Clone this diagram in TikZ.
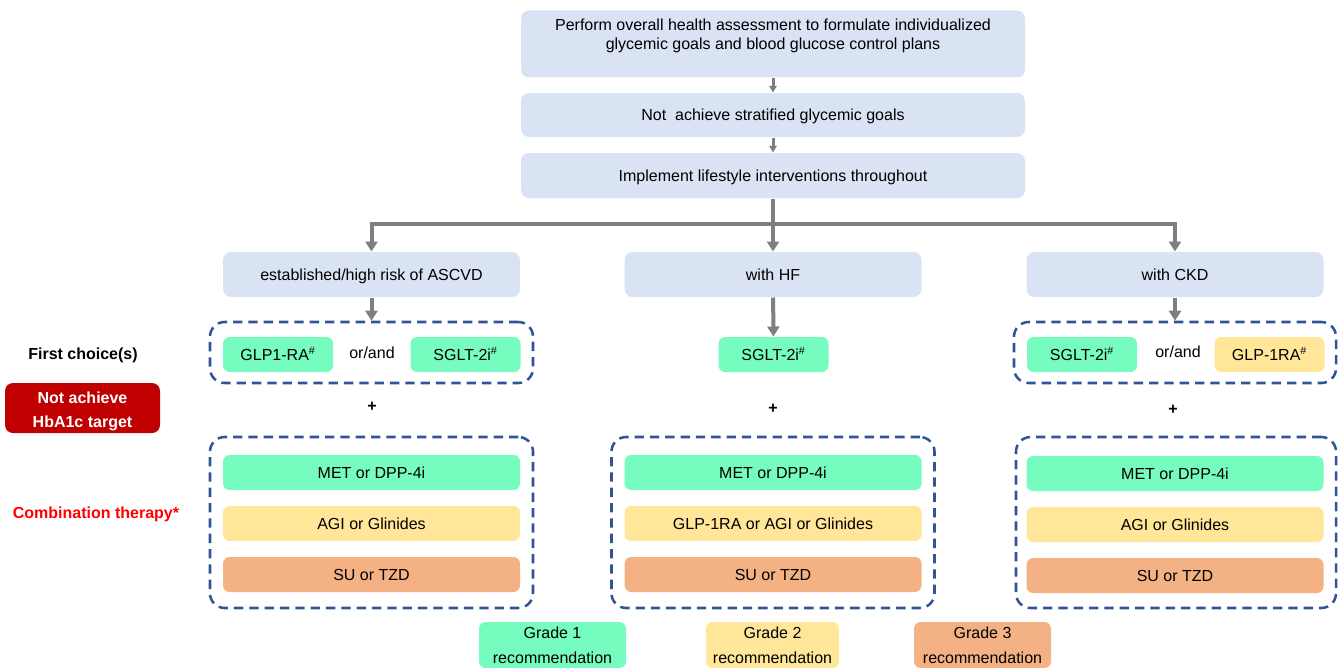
\documentclass[tikz,border=0pt]{standalone}
\usepackage{fontspec}
\setmainfont{Liberation Sans}
\usetikzlibrary{arrows.meta}

\definecolor{stageblue}{RGB}{218,227,243}
\definecolor{gradeone}{RGB}{118,252,190}
\definecolor{gradetwo}{RGB}{255,230,153}
\definecolor{gradethree}{RGB}{244,177,131}
\definecolor{dashblue}{RGB}{47,85,151}
\definecolor{alertred}{RGB}{192,0,0}
\definecolor{arrowgray}{RGB}{127,127,127}

\tikzset{every picture/.style={line width=0.75pt}}
\tikzset{
  oneline/.style={text height=8.6pt, text depth=0pt},
  stage/.style={fill=stageblue, rounded corners=6pt, minimum width=378pt, align=center},
  branch/.style={oneline, fill=stageblue, rounded corners=6pt, minimum width=222.75pt, minimum height=33.75pt},
  drug/.style={oneline, rounded corners=5pt, minimum width=82.5pt, minimum height=26.25pt},
  therapy/.style={oneline, rounded corners=5pt, minimum width=222.75pt, minimum height=26.25pt},
  group/.style={draw=dashblue, line width=1.9pt, dash pattern=on 7pt off 4.5pt, rounded corners=11pt},
  grade/.style={rounded corners=5pt, minimum height=34.5pt, align=center},
  flow/.style={draw=arrowgray, line width=2.25pt, -{Triangle[width=5.5pt,length=5pt]}},
  tree/.style={draw=arrowgray, line width=3pt},
  treearrow/.style={tree, -{Triangle[width=9pt,length=7.5pt]}}
}

\begin{document}
\begin{tikzpicture}[x=0.75pt,y=0.75pt,yscale=-1,xscale=1, font=\fontsize{12}{14.25}\selectfont]
		\useasboundingbox (0,0) rectangle (1341,667);

		% Assessment stages
		\node [stage, minimum height=50.25pt] (assess) at (773,44) {Perform overall health assessment to formulate individualized\\glycemic goals and blood glucose control plans\\\mbox{}};
		\node [stage, oneline, minimum height=33pt] (fail) at (773,115) {Not\ \ achieve stratified glycemic goals};
		\node [stage, oneline, minimum height=33.75pt] (life) at (773,175.5) {Implement lifestyle interventions throughout};
		\draw [flow] (assess) -- (fail);
		\draw [flow] (fail) -- (life);

		% Branches
		\node [branch] (ascvd) at (371.5,274.5) {established/high risk of ASCVD};
		\node [branch] (hf) at (773,274.5) {with HF};
		\node [branch] (ckd) at (1175,274.5) {with CKD};
		\coordinate (split) at (773,223.5);
		\draw [tree] (life) -- (split);
		\draw [treearrow] (split) -| (ascvd);
		\draw [treearrow] (split) -- (hf);
		\draw [treearrow] (split) -| (ckd);

		% First choice
		\node [group, minimum width=242.25pt, minimum height=45.75pt] (firstL) at (371.5,352.5) {};
		\node [group, minimum width=241.5pt, minimum height=45.75pt] (firstR) at (1175,352.5) {};
		\node [drug, fill=gradeone] (glpL) at (278,354.5) {GLP1-RA\textsuperscript{\#}};
		\node (orL) at (372,353) {or/and};
		\node [drug, fill=gradeone] (sgltL) at (465.5,354.5) {SGLT-2i\textsuperscript{\#}};
		\node [drug, fill=gradeone] (sgltM) at (773.5,354.5) {SGLT-2i\textsuperscript{\#}};
		\node [drug, fill=gradeone] (sgltR) at (1082,354.5) {SGLT-2i\textsuperscript{\#}};
		\node (orR) at (1178,352) {or/and};
		\node [drug, fill=gradetwo] (glpR) at (1269.5,354.5) {GLP-1RA\textsuperscript{\#}};
		\draw [treearrow] (ascvd) -- (firstL);
		\draw [treearrow] (hf) -- (sgltM);
		\draw [treearrow] (ckd) -- (firstR);

		% Plus signs
		\node [font=\fontsize{12}{14}\selectfont\bfseries] (plusL) at (372,407) {+};
		\node [font=\fontsize{12}{14}\selectfont\bfseries] (plusM) at (773,409) {+};
		\node [font=\fontsize{12}{14}\selectfont\bfseries] (plusR) at (1173,410) {+};

		% Combination therapy
		\node [group, minimum width=242.25pt, minimum height=128.25pt] (comboL) at (371.5,522.5) {};
		\node [group, minimum width=242.25pt, minimum height=128.25pt] (comboM) at (773,522.5) {};
		\node [group, minimum width=240pt, minimum height=128.25pt] (comboR) at (1176,522.5) {};
		\node [therapy, fill=gradeone] (metL) at (371.5,472.5) {MET or DPP-4i};
		\node [therapy, fill=gradetwo] (agiL) at (371.5,523.5) {AGI or Glinides};
		\node [therapy, fill=gradethree] (suL) at (371.5,574.5) {SU or TZD};
		\node [therapy, fill=gradeone] (metM) at (773,472.5) {MET or DPP-4i};
		\node [therapy, fill=gradetwo] (agiM) at (773,523.5) {GLP-1RA or AGI or Glinides};
		\node [therapy, fill=gradethree] (suM) at (773,574.5) {SU or TZD};
		\node [therapy, fill=gradeone] (metR) at (1175,473.5) {MET or DPP-4i};
		\node [therapy, fill=gradetwo] (agiR) at (1175,524.5) {AGI or Glinides};
		\node [therapy, fill=gradethree] (suR) at (1175,575.5) {SU or TZD};

		% Row labels
		\node [oneline, font=\fontsize{12}{14}\selectfont\bfseries] (firstlabel) at (83,354) {First choice(s)};
		\node [fill=alertred, text=white, rounded corners=6pt, inner ysep=0pt, minimum width=116.25pt, minimum height=37.5pt, align=center, font=\fontsize{12}{14}\selectfont\bfseries] (hba) at (82.5,408) {\rule{0pt}{14pt}Not achieve\\[4.5pt]HbA1c target};
		\node [text=red, font=\fontsize{12}{14}\selectfont\bfseries] (combolabel) at (96,514) {Combination therapy*};

		% Legend
		\node [grade, fill=gradeone, minimum width=110.25pt] (gone) at (552.5,645) {Grade 1\\[4.5pt]recommendation};
		\node [grade, fill=gradetwo, minimum width=99.75pt] (gtwo) at (772.5,645) {Grade 2\\[4.5pt]recommendation};
		\node [grade, fill=gradethree, minimum width=102.75pt] (gthree) at (982.5,645) {Grade 3\\[4.5pt]recommendation};

		\end{tikzpicture}
\end{document}
